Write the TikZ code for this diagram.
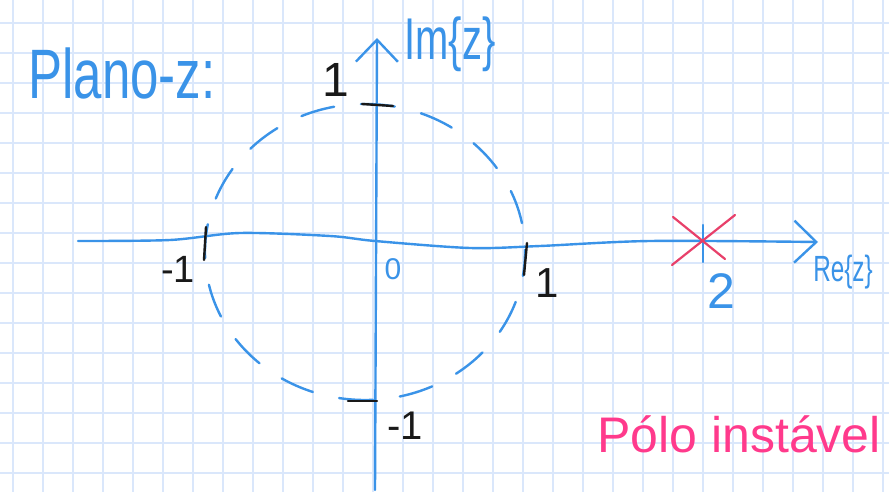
\documentclass[tikz,border=0pt]{standalone}
\usepackage{fontspec}
\setmainfont{Liberation Sans}
\usetikzlibrary{arrows.meta,positioning}
\definecolor{PenBlue}  {RGB}{58,147,232}
\definecolor{GridBlue} {RGB}{218,231,251}
\definecolor{PoleRed}  {RGB}{232,64,106}
\definecolor{NotePink} {RGB}{255,58,140}
\definecolor{InkBlack} {RGB}{25,25,25}
\begin{document}
\begin{tikzpicture}[x=1pt,y=-1pt,
  pen/.style={PenBlue,line width=2.4pt,line cap=round},
  ink/.style={InkBlack,line width=2.4pt,line cap=round},
  gridline/.style={GridBlue,line width=1.6pt},
  barb/.style={-{Straight Barb[length=22pt,width=42pt,line width=2.4pt]}},
  hand/.style={inner sep=0pt,text=PenBlue},
  tick/.style={inner sep=0pt,text=InkBlack}]
  \useasboundingbox[fill=white] (0,0) rectangle (889,492);
  \foreach \gx in {0,...,29} \draw[gridline] (13+30*\gx,0) -- (13+30*\gx,492);
  \foreach \gy in {0,...,15} \draw[gridline] (0,23+30*\gy) -- (889,23+30*\gy);

  \coordinate (ImStart) at (375,490);
  \coordinate (ImEnd)   at (377,38);
  \coordinate (ReStart) at (78,241);
  \coordinate (ReEnd)   at (818,242);
  \coordinate (Pole)    at (703,239);

  \draw[pen,dash pattern=on 34pt off 27pt,dash phase=10pt]
        (365,252) ellipse [x radius=160,y radius=148];
  \draw[pen,barb] (ImStart) -- (ImEnd);
  \draw[pen,barb] plot[smooth] coordinates
        {(ReStart) (170,240) (240,233) (330,236) (375,241) (470,248)
         (540,246) (650,241) (ReEnd)};

  \draw[ink] (362,104) -- (393,106);
  \draw[ink] (348,401) -- (377,401);
  \draw[ink] (206,227) -- (204,260);
  \draw[ink] (527,243) -- (524,275);
  \draw[pen] (703,225) -- (703,262);
  \draw[PoleRed,line width=2.2pt,line cap=round]
        ([shift={(-30,-22)}]Pole) -- ([shift={(22,20)}]Pole)
        ([shift={(32,-24)}]Pole) -- ([shift={(-31,26)}]Pole);

  \node[hand] (plano) at (122,73)
        {\scalebox{1.02}[1.4]{\fontsize{50}{50}\selectfont Plano-z:}};
  \node[hand] (imz) at (450,44)
        {\scalebox{1.05}[1.55]{\fontsize{38}{38}\selectfont Im\{z\}}};
  \node[hand] (rez) at (843,272)
        {\scalebox{0.9}[1.35]{\fontsize{27}{27}\selectfont Re\{z\}}};
  \node[tick] (imone) at (336,80) {\fontsize{48}{48}\selectfont 1};
  \node[tick] (imneg) at (405,426) {\fontsize{40}{40}\selectfont -1};
  \node[tick] (reneg) at (178,269) {\fontsize{38}{38}\selectfont -1};
  \node[tick] (reone) at (547,283) {\fontsize{42}{42}\selectfont 1};
  \node[hand] (origin) at (393,269) {\fontsize{30}{30}\selectfont 0};
  \node[hand] (retwo) at (721,291) {\fontsize{50}{50}\selectfont 2};
  \node[inner sep=0pt,text=NotePink,anchor=south east] (note) at (881,453)
        {\fontsize{50}{50}\selectfont Pólo instável};
\end{tikzpicture}
\end{document}
